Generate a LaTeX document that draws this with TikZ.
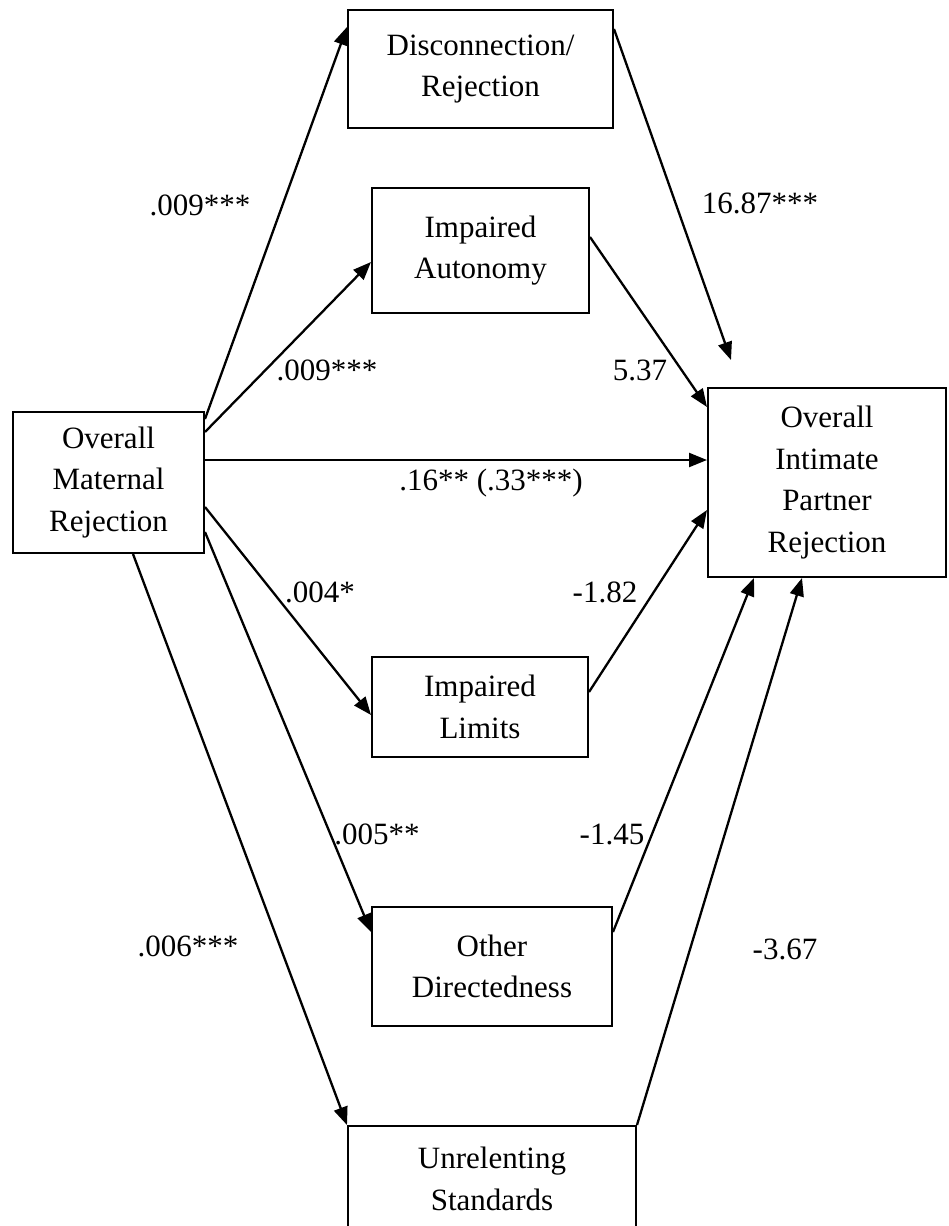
\documentclass[tikz,border=0pt]{standalone}
\usepackage{fontspec}
\setmainfont{Liberation Serif}
\usetikzlibrary{arrows.meta}
\begin{document}
\begin{tikzpicture}[x=0.5pt,y=-0.5pt,
  box/.style={draw,line width=1pt,rectangle,inner sep=0pt,align=center,font=\fontsize{15.5}{20.8}\selectfont},
  lab/.style={anchor=base,inner sep=0pt,font=\fontsize{15.5}{20.8}\selectfont},
  arr/.style={line width=1.15pt,-{Triangle[length=9pt,width=7pt]}}]
\useasboundingbox (0,0) rectangle (948,1226);
\clip (0,0) rectangle (948,1226);
\fill[white] (0,0) rectangle (948,1226);
% boxes
\node[box,minimum width=132.5pt,minimum height=59pt] (dis) at (480.5,69) {Disconnection/\\Rejection};
\node[box,minimum width=108.5pt,minimum height=62.5pt] (ia) at (480.5,250.5) {Impaired\\Autonomy};
\node[box,minimum width=95.5pt,minimum height=70.5pt] (omr) at (108.5,482.5) {Overall\\Maternal\\Rejection};
\node[box,minimum width=119pt,minimum height=94.5pt] (oipr) at (827,482.5) {Overall\\Intimate\\Partner\\Rejection};
\node[box,minimum width=108pt,minimum height=50pt] (il) at (480,707) {Impaired\\Limits};
\node[box,minimum width=120pt,minimum height=59.5pt] (od) at (492,966.5) {Other\\Directedness};
\node[box,minimum width=144pt,minimum height=53pt] (us) at (492,1179) {Unrelenting\\Standards};
\coordinate (disend) at (731,360);
% connectors
\draw[arr] ([yshift=-4pt]omr.north east) -- ([yshift=-9pt]dis.north west);
\draw[arr] ([yshift=-10.5pt]omr.north east) -- ([yshift=-5.75pt]ia.west);
\draw[arr] ([yshift=11.25pt]omr.east) -- ([yshift=11.25pt]oipr.west);
\draw[arr] ([yshift=-12.25pt]omr.east) -- ([yshift=-4pt]il.west);
\draw[arr] ([yshift=-24.75pt]omr.east) -- ([yshift=17.25pt]od.west);
\draw[arr] ([xshift=12.25pt]omr.south) -- (us.north west);
\draw[arr] ([yshift=-10pt]dis.north east) -- (disend);
\draw[arr] ([yshift=6.75pt]ia.east) -- ([yshift=-10pt]oipr.north west);
\draw[arr] ([yshift=7.5pt]il.east) -- ([yshift=-13.75pt]oipr.west);
\draw[arr] ([yshift=17.25pt]od.east) -- ([xshift=23.5pt]oipr.south west);
\draw[arr] (us.north east) -- ([xshift=47.5pt]oipr.south west);
% labels
\node[lab] (l1) at (200,215) {.009***};
\node[lab] (l2) at (327,380) {.009***};
\node[lab] (l3) at (760,213) {16.87***};
\node[lab] (l4) at (640,380) {5.37};
\node[lab] (l5) at (491,490) {.16** (.33***)};
\node[lab] (l6) at (320,602) {.004*};
\node[lab] (l7) at (605,602) {-1.82};
\node[lab] (l8) at (377,844) {.005**};
\node[lab] (l9) at (612,844) {-1.45};
\node[lab] (l10) at (188,956) {.006***};
\node[lab] (l11) at (785,959) {-3.67};
\end{tikzpicture}
\end{document}
